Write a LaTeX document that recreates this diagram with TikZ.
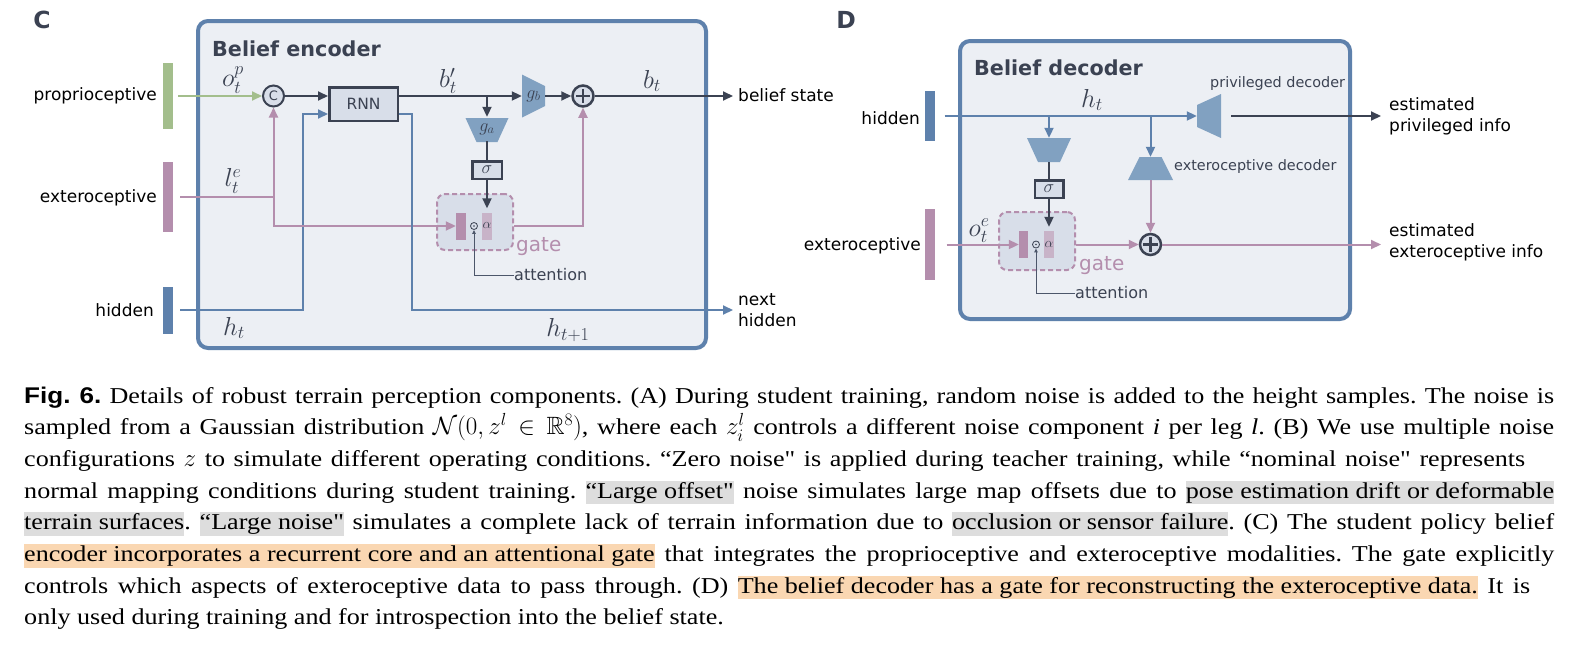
\RequirePackage{fix-cm}
\documentclass[tikz,border=0pt]{standalone}
\usepackage{fontspec}
\usepackage{amssymb}
\usetikzlibrary{arrows.meta,calc}
\newfontfamily\dv{DejaVu Sans}
\newfontfamily\capserif[FakeStretch=1.15]{Liberation Serif}
\newfontfamily\capsans[FakeStretch=1.15]{Liberation Sans}
\definecolor{ndark}{HTML}{3B4252}
\definecolor{nblue}{HTML}{5E81AC}
\definecolor{boxfill}{HTML}{ECEFF4}
\definecolor{nlight}{HTML}{D8DEE9}
\definecolor{ntrap}{HTML}{81A1C1}
\definecolor{ngreen}{HTML}{A3BE8C}
\definecolor{nmauve}{HTML}{B48EAD}
\definecolor{nlmauve}{HTML}{C8B3C8}
\definecolor{nattn}{HTML}{4C566A}
\definecolor{hlgray}{HTML}{DDDDDD}
\definecolor{hlorange}{HTML}{FAD7B2}
\newcommand\hlg[1]{{\fboxsep=0pt\colorbox{hlgray}{\rule[-6pt]{0pt}{23.5pt}#1}}}
\newcommand\hlo[1]{{\fboxsep=0pt\colorbox{hlorange}{\rule[-6pt]{0pt}{23.5pt}#1}}}
\newcommand\capmath[1]{{\fontsize{25}{31.7}\selectfont$#1$}}
\frenchspacing
\begin{document}
\begin{tikzpicture}[x=1pt,y=-1pt,
  every node/.style={inner sep=0pt},
  inv/.style={rectangle, draw=none},
  lbl/.style={font=\dv\fontsize{17}{21}\selectfont, text=black},
  inlbl/.style={font=\dv\fontsize{16}{20}\selectfont, text=ndark},
  smlbl/.style={font=\dv\fontsize{14.4}{17}\selectfont, text=ndark},
  mlbl/.style={font=\fontsize{26}{30}\selectfont, text=ndark},
  oplbl/.style={font=\fontsize{18}{20}\selectfont, text=ndark},
  albl/.style={font=\fontsize{14}{16}\selectfont, text=ndark},
  ttl/.style={font=\dv\bfseries\fontsize{20.7}{24}\selectfont, text=ndark},
  panel/.style={font=\dv\bfseries\fontsize{23.5}{28}\selectfont, text=ndark},
  gatelbl/.style={font=\dv\fontsize{20}{24}\selectfont, text=nmauve},
  bar/.style={rectangle, minimum width=10pt},
  bigbox/.style={rectangle, draw=nblue, line width=4pt, fill=boxfill, rounded corners=10pt},
  gatebox/.style={rectangle, draw=nmauve, line width=2pt, dash pattern=on 5pt off 3pt, fill=nlight, rounded corners=8pt},
  opbox/.style={rectangle, draw=ndark, line width=2.5pt, fill=nlight},
  opcirc/.style={circle, draw=ndark, line width=2.5pt, fill=nlight, minimum size=21pt},
  odotc/.style={circle, draw=ndark, line width=0.8pt, minimum size=7pt},
  arrtip/.style={-{Triangle[length=10pt,width=9pt]}},
  dline/.style={draw=ndark, line width=2pt},
  darrow/.style={dline, arrtip},
  bline/.style={draw=nblue, line width=2pt},
  barrow/.style={bline, arrtip},
  mline/.style={draw=nmauve, line width=2pt},
  marrow/.style={mline, arrtip},
  garrow/.style={draw=ngreen, line width=2pt, arrtip},
  attn/.style={draw=nattn, line width=1pt, -{Triangle[length=4pt,width=3.5pt]}},
  capline/.style={anchor=base west, font=\capserif\fontsize{22.7}{31.7}\selectfont, text=black},
]
\fill[white] (0,0) rectangle (1569,646);
\useasboundingbox (0,0) rectangle (1569,646);

% ================= Panel C =================
\node[panel] (lblC) at (42,20) {C};
\node[bigbox, minimum width=508pt, minimum height=327pt] (enc) at (452,184.5) {};
\node[ttl, anchor=base west] (encT) at (212,56) {Belief encoder};

\node[bar, fill=ngreen, minimum height=66pt] (pbar) at (168,96) {};
\node[bar, fill=nmauve, minimum height=70pt] (ebar) at (168,197) {};
\node[bar, fill=nblue, minimum height=47pt] (hbar) at (168,310) {};
\node[lbl, anchor=base east] (pl) at (157,100) {proprioceptive};
\node[lbl, anchor=base east] (el) at (157,202) {exteroceptive};
\node[lbl, anchor=base east] (hl) at (154,316) {hidden};

\node[opcirc, line width=2pt] (cat) at (273.5,96) {\dv\fontsize{13}{14}\selectfont\color{ndark}C};
\node[opbox, minimum width=68.5pt, minimum height=33.5pt, font=\dv\fontsize{15.5}{18}\selectfont, text=ndark] (rnn) at (363.5,104) {RNN};

\fill[ntrap] (522,74.5) -- (545,86) -- (545,106) -- (522,117.5) -- cycle;
\node[inv, oplbl, minimum width=23pt, minimum height=43pt] (gb) at (533.5,96) {$g_b$};
\node[opcirc] (plus1) at (583,96) {};
\draw[dline, line width=2.2pt] ($(plus1.north)+(0,4.5)$) -- ($(plus1.south)+(0,-4.5)$);
\draw[dline, line width=2.2pt] ($(plus1.west)+(4.5,0)$) -- ($(plus1.east)+(-4.5,0)$);

\fill[ntrap] (465.5,118) -- (508.5,118) -- (497.5,142) -- (476.5,142) -- cycle;
\node[inv, oplbl, minimum width=43pt, minimum height=24pt] (ga) at (487,129) {$g_a$};
\node[opbox, oplbl, minimum width=29.5pt, minimum height=17.5pt] (sig) at (487,170) {$\sigma$};

\node[gatebox, minimum width=76pt, minimum height=56pt] (gate) at (475,222) {};
\node[bar, fill=nmauve, minimum height=27pt] (xbar) at (461,226) {};
\node[bar, fill=nlmauve, minimum height=27pt] (abar) at (487,226) {};
\node[albl] (alpha) at (487,225) {$\alpha$};
\node[odotc] (odot) at (474,226) {};
\node[circle, fill=ndark, minimum size=1.8pt] (odotm) at (odot) {};
\node[gatelbl, anchor=base west] (gateL) at (516,251) {gate};
\node[inlbl, anchor=west] (att) at (514,275) {attention};

\node[lbl, anchor=base west] (bstate) at (738,101) {belief state};
\node[lbl, anchor=west, align=left] (nexth) at (738,310) {next\\hidden};

\node[mlbl] (opl) at (233,80) {$o_t^p$};
\node[mlbl] (lel) at (233,181) {$l_t^e$};
\node[mlbl] (htl) at (234,328) {$h_t$};
\node[mlbl] (bpl) at (448,81) {$b'_t$};
\node[mlbl] (btl) at (652,81) {$b_t$};
\node[mlbl] (ht1) at (568,330) {$h_{t+1}$};

\draw[garrow, shorten <=5pt] (pbar.east) -- (cat.west);
\draw[darrow] (cat.east) -- (cat.east -| rnn.west);
\draw[barrow, shorten <=7pt] (hbar.east) -| ($(rnn.west)+(-25,10)$) -- ($(rnn.west)+(0,10)$);
\draw[mline, shorten <=7pt] (ebar.east) -- (cat |- ebar.east);
\draw[marrow] (cat |- ebar.east) -- (cat.south);
\draw[marrow] (cat |- ebar.east) -- (cat |- xbar) -- (xbar.west);
\draw[darrow] (rnn.east |- cat) -- (gb.west);
\draw[darrow] (ga.north |- cat) -- (ga.north);
\draw[dline] (ga.south) -- (sig.north);
\draw[darrow, shorten >=4pt] (sig.south) -- (abar.north);
\draw[darrow] (gb.east) -- (plus1.west);
\draw[darrow, shorten >=5pt] (plus1.east) -- (bstate.west |- plus1);
\draw[marrow] (gate.east |- xbar) -- (plus1 |- xbar) -- (plus1.south);
\draw[barrow, shorten >=5pt] ($(rnn.east)+(0,10)$) -- ++(13,0) |- (nexth.west);
\draw[attn] (att.west) -| (odot.south);

% ================= Panel D =================
\node[panel] (lblD) at (846,20) {D};
\node[bigbox, minimum width=390pt, minimum height=278pt] (dec) at (1155,180) {};
\node[ttl, anchor=base west] (decT) at (974,75) {Belief decoder};

\node[bar, fill=nblue, minimum height=50pt] (hbar2) at (929.5,116) {};
\node[bar, fill=nmauve, minimum height=71pt] (ebar2) at (929.5,244.5) {};
\node[lbl, anchor=base east] (hl2) at (920,124) {hidden};
\node[lbl, anchor=base east] (el2) at (921,250) {exteroceptive};

\fill[ntrap] (1197,105) -- (1221,94) -- (1221,138) -- (1197,127) -- cycle;
\node[inv, minimum width=24pt, minimum height=44pt] (pdec) at (1209,116) {};
\fill[ntrap] (1027,138) -- (1071,138) -- (1060,162) -- (1038,162) -- cycle;
\node[inv, minimum width=44pt, minimum height=24pt] (gaD) at (1049,150) {};
\fill[ntrap] (1139.5,157) -- (1161.5,157) -- (1173,180) -- (1128,180) -- cycle;
\node[inv, minimum width=45pt, minimum height=23pt] (edec) at (1150.5,168.5) {};

\node[opbox, oplbl, minimum width=28.5pt, minimum height=17.5pt] (sig2) at (1049,189) {$\sigma$};
\node[gatebox, minimum width=76pt, minimum height=58pt] (gate2) at (1037,241) {};
\node[bar, fill=nmauve, minimum width=9pt, minimum height=27pt] (xbar2) at (1023.5,244.5) {};
\node[bar, fill=nlmauve, minimum height=27pt] (abar2) at (1049,244.5) {};
\node[albl] (alpha2) at (1049,244) {$\alpha$};
\node[odotc] (odot2) at (1036,244.5) {};
\node[circle, fill=ndark, minimum size=1.8pt] (odotm2) at (odot2) {};
\node[gatelbl, anchor=base west] (gateL2) at (1079,270) {gate};
\node[inlbl, anchor=west] (att2) at (1075,293) {attention};

\node[opcirc] (plus2) at (1150.5,244.5) {};
\draw[dline, line width=2.2pt] ($(plus2.north)+(0,4.5)$) -- ($(plus2.south)+(0,-4.5)$);
\draw[dline, line width=2.2pt] ($(plus2.west)+(4.5,0)$) -- ($(plus2.east)+(-4.5,0)$);

\node[smlbl, anchor=west] (pdl) at (1210,84) {privileged decoder};
\node[smlbl, anchor=west] (edl) at (1174,167) {exteroceptive decoder};
\node[lbl, anchor=west, align=left] (epi) at (1389,116.5) {estimated\\privileged info};
\node[lbl, anchor=west, align=left] (eei) at (1389,242.5) {estimated\\exteroceptive info};

\node[mlbl] (oel) at (979,231) {$o_t^e$};
\node[mlbl] (ht2) at (1092,100) {$h_t$};

\draw[barrow, shorten <=10pt] (hbar2.east) -- (pdec.west);
\draw[barrow] (gaD.north |- hbar2) -- (gaD.north);
\draw[barrow] (edec.north |- hbar2) -- (edec.north);
\draw[dline] (gaD.south) -- (sig2.north);
\draw[darrow, shorten >=4pt] (sig2.south) -- (abar2.north);
\draw[marrow, shorten <=12pt] (ebar2.east) -- (xbar2.west);
\draw[marrow] (gate2.east |- xbar2) -- (plus2.west);
\draw[marrow] (edec.south) -- (plus2.north);
\draw[marrow, shorten >=8pt] (plus2.east) -- (eei.west |- plus2);
\draw[darrow, shorten <=10pt, shorten >=8pt] (pdec.east) -- (epi.west |- pdec);
\draw[attn] (att2.west) -| (odot2.south);

% ================= Caption =================
\node[capline] (c1) at (24,403) {\makebox[1530pt][s]{{\capsans\bfseries Fig. 6.} Details of robust terrain perception components. (A) During student training, random noise is added to the height samples. The noise is}};
\node[capline] (c2) at (24,434.7) {\makebox[1530pt][s]{sampled from a Gaussian distribution \capmath{\mathcal{N}(0, z^l \in \mathbb{R}^8)}, where each \capmath{z_i^l} controls a different noise component \textit{i} per leg \textit{l}. (B) We use multiple noise}};
\node[capline] (c3) at (24,466.4) {\makebox[1501pt][s]{configurations \capmath{z} to simulate different operating conditions. “Zero noise" is applied during teacher training, while “nominal noise" represents}};
\node[capline] (c4) at (24,498.1) {\makebox[1530pt][s]{normal mapping conditions during student training. \hlg{“Large offset"} noise simulates large map offsets due to \hlg{pose estimation drift or deformable}}};
\node[capline] (c5) at (24,529.8) {\makebox[1530pt][s]{\hlg{terrain surfaces}. \hlg{“Large noise"} simulates a complete lack of terrain information due to \hlg{occlusion or sensor failure}. (C) The student policy belief}};
\node[capline] (c6) at (24,561.5) {\makebox[1530pt][s]{\hlo{encoder incorporates a recurrent core and an attentional gate} that integrates the proprioceptive and exteroceptive modalities. The gate explicitly}};
\node[capline] (c7) at (24,593.2) {\makebox[1506pt][s]{controls which aspects of exteroceptive data to pass through. (D) \hlo{The belief decoder has a gate for reconstructing the exteroceptive data.} It is}};
\node[capline] (c8) at (24,624.9) {only used during training and for introspection into the belief state.};
\end{tikzpicture}
\end{document}
